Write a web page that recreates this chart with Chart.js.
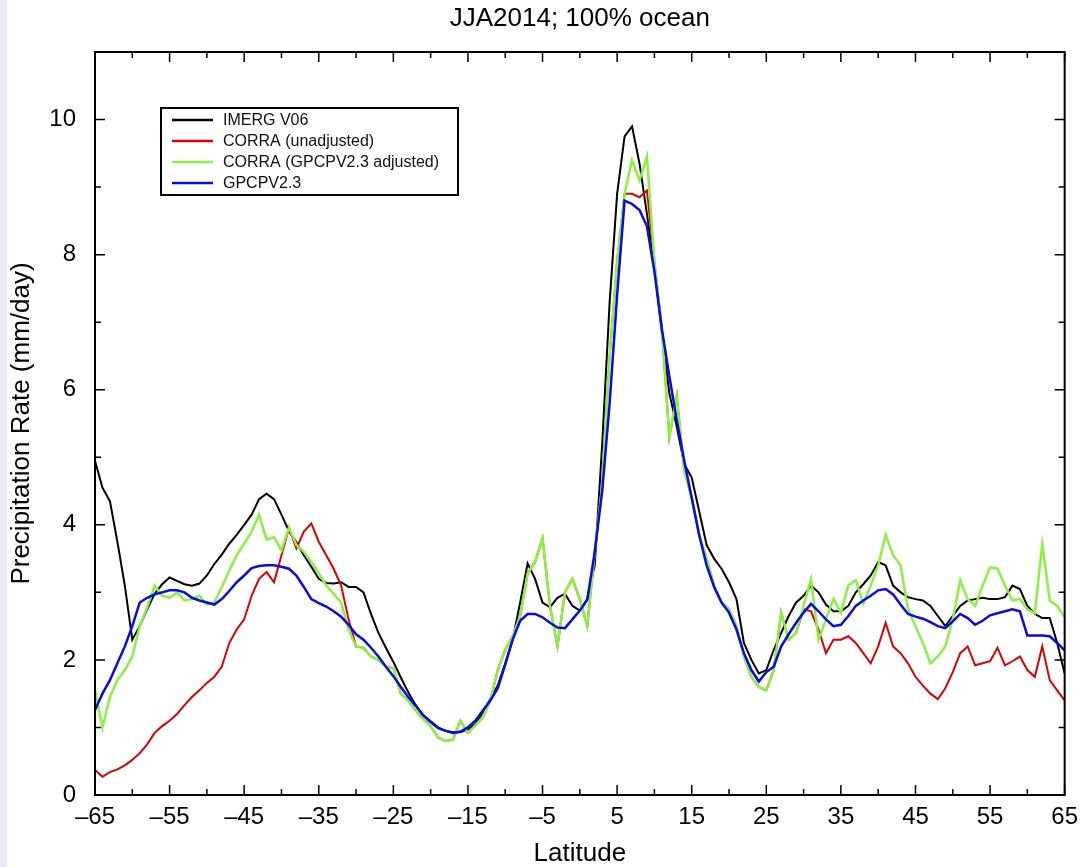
<!DOCTYPE html>
<html>
<head>
<meta charset="utf-8">
<script src="https://cdn.jsdelivr.net/npm/chart.js@4.4.0/dist/chart.umd.min.js"></script>
<style>
  html, body { margin: 0; padding: 0; background: #fff; }
  #wrap { width: 1086px; height: 867px; }
</style>
</head>
<body>
<div id="wrap"><canvas id="chart" width="1086" height="867"></canvas></div>
<script>
// zonal mean precipitation, JJA2014, ocean only (1 degree steps)
const lats = [
  -65, -64, -63, -62, -61, -60, -59, -58, -57, -56,
  -55, -54, -53, -52, -51, -50, -49, -48, -47, -46,
  -45, -44, -43, -42, -41, -40, -39, -38, -37, -36,
  -35, -34, -33, -32, -31, -30, -29, -28, -27, -26,
  -25, -24, -23, -22, -21, -20, -19, -18, -17, -16,
  -15, -14, -13, -12, -11, -10, -9, -8, -7, -6,
  -5, -4, -3, -2, -1, 0, 1, 2, 3, 4,
  5, 6, 7, 8, 9, 10, 11, 12, 13, 14,
  15, 16, 17, 18, 19, 20, 21, 22, 23, 24,
  25, 26, 27, 28, 29, 30, 31, 32, 33, 34,
  35, 36, 37, 38, 39, 40, 41, 42, 43, 44,
  45, 46, 47, 48, 49, 50, 51, 52, 53, 54,
  55, 56, 57, 58, 59, 60, 61, 62, 63, 64,
  65
];

const imerg = [
  4.95, 4.55, 4.35, 3.75, 3.1, 2.3, 2.5, 2.75, 2.98, 3.12,
  3.22, 3.17, 3.12, 3.1, 3.13, 3.25, 3.42, 3.56, 3.72, 3.85,
  4.0, 4.15, 4.38, 4.46, 4.38, 4.15, 3.91, 3.74, 3.55, 3.38,
  3.2, 3.14, 3.13, 3.15, 3.08, 3.08, 3.0, 2.68, 2.4, 2.18,
  1.97, 1.74, 1.52, 1.33, 1.18, 1.09, 1.0, 0.95, 0.93, 0.93,
  0.97, 1.05, 1.22, 1.42, 1.62, 1.95, 2.3, 2.85, 3.43, 3.2,
  2.85, 2.78, 2.92, 2.98, 2.8, 2.73, 2.9, 3.4, 5.2, 7.3,
  8.9, 9.75, 9.9, 9.35, 8.6, 7.8, 6.85, 5.95, 5.45, 4.9,
  4.7, 4.2, 3.7, 3.5, 3.35, 3.15, 2.9, 2.25, 2.0, 1.8,
  1.85, 2.15, 2.4, 2.65, 2.85, 2.95, 3.1, 3.0, 2.82, 2.72,
  2.72, 2.8, 3.0, 3.12, 3.25, 3.45, 3.4, 3.1, 3.0, 2.93,
  2.9, 2.88, 2.8, 2.65, 2.5, 2.65, 2.8, 2.88, 2.9, 2.92,
  2.9, 2.9, 2.93, 3.1, 3.05, 2.8, 2.68, 2.62, 2.62, 2.25,
  1.8
];

const corraRaw = [
  0.37, 0.27, 0.34, 0.38, 0.44, 0.52, 0.62, 0.75, 0.92, 1.02,
  1.1, 1.2, 1.33, 1.45, 1.55, 1.66, 1.75, 1.9, 2.25, 2.45,
  2.6, 2.95, 3.2, 3.3, 3.15, 3.55, 3.95, 3.65, 3.9, 4.02,
  3.75, 3.55, 3.35, 3.1, 2.6, 2.2, 2.18, 2.05, 2.0, 1.9,
  1.88, 1.5, 1.4, 1.25, 1.12, 1.02, 0.85, 0.8, 0.82, 1.1,
  0.92, 1.03, 1.15, 1.4, 1.85, 2.15, 2.35, 2.65, 3.28, 3.45,
  3.8, 2.8, 2.2, 3.0, 3.2, 2.9, 2.5, 3.6, 4.6, 6.5,
  7.9, 8.9, 8.9, 8.85, 8.95, 7.9, 6.9, 5.3, 5.9, 4.8,
  4.4, 3.85, 3.5, 3.1, 2.85, 2.75, 2.5, 2.05, 1.75, 1.6,
  1.55, 1.85, 2.7, 2.3, 2.4, 2.75, 2.72, 2.45, 2.1, 2.3,
  2.3, 2.35, 2.25, 2.1, 1.95, 2.2, 2.55, 2.2, 2.1, 1.95,
  1.75, 1.62, 1.5, 1.42, 1.58, 1.82, 2.1, 2.2, 1.92, 1.95,
  1.98, 2.18, 1.92, 1.98, 2.05, 1.85, 1.75, 2.2, 1.7, 1.55,
  1.4
];

const corraAdj = [
  1.55, 1.0, 1.45, 1.7, 1.85, 2.05, 2.5, 2.78, 3.1, 2.95,
  2.92, 3.0, 2.88, 2.9, 2.95, 2.82, 2.85, 3.08, 3.32, 3.55,
  3.72, 3.9, 4.15, 3.78, 3.82, 3.62, 3.96, 3.7, 3.6, 3.45,
  3.28, 3.1, 2.98, 2.85, 2.45, 2.2, 2.18, 2.05, 2.0, 1.9,
  1.88, 1.5, 1.4, 1.25, 1.12, 1.02, 0.85, 0.8, 0.82, 1.1,
  0.92, 1.03, 1.15, 1.4, 1.85, 2.15, 2.35, 2.65, 3.28, 3.45,
  3.8, 2.8, 2.2, 3.0, 3.2, 2.9, 2.5, 3.6, 4.6, 6.5,
  7.9, 8.9, 9.4, 9.1, 9.45, 7.9, 6.9, 5.3, 5.9, 4.8,
  4.4, 3.85, 3.5, 3.1, 2.85, 2.75, 2.5, 2.05, 1.75, 1.6,
  1.55, 1.85, 2.7, 2.3, 2.4, 2.8, 3.2, 2.3, 2.6, 2.9,
  2.7, 3.1, 3.18, 2.83, 3.1, 3.4, 3.85, 3.55, 3.4, 2.75,
  2.5, 2.25, 1.95, 2.05, 2.2, 2.6, 3.18, 2.9, 2.8, 3.1,
  3.37, 3.35, 3.1, 2.88, 2.9, 2.75, 2.69, 3.72, 2.88, 2.8,
  2.63
];

const gpcp = [
  1.26, 1.5, 1.7, 1.95, 2.2, 2.5, 2.85, 2.92, 2.97, 3.0,
  3.03, 3.03, 3.0, 2.92, 2.88, 2.85, 2.82, 2.9, 3.02, 3.15,
  3.25, 3.36, 3.39, 3.4, 3.4, 3.38, 3.35, 3.25, 3.08, 2.9,
  2.84, 2.79, 2.72, 2.64, 2.52, 2.38, 2.3, 2.18, 2.05, 1.9,
  1.76, 1.6, 1.45, 1.32, 1.18, 1.08, 0.99, 0.95, 0.92, 0.94,
  1.0, 1.1, 1.25, 1.4, 1.58, 1.93, 2.3, 2.58, 2.68, 2.68,
  2.63, 2.55, 2.48, 2.47, 2.6, 2.73, 2.89, 3.6, 4.5, 5.8,
  7.4, 8.8, 8.75, 8.66, 8.42, 7.75, 6.9, 6.2, 5.55, 4.95,
  4.4, 3.85, 3.4, 3.08, 2.85, 2.7, 2.45, 2.1, 1.85, 1.68,
  1.82, 1.9, 2.2, 2.38, 2.55, 2.7, 2.83, 2.72, 2.6, 2.5,
  2.52, 2.65, 2.8, 2.88, 2.95, 3.03, 3.05, 2.97, 2.82, 2.68,
  2.64, 2.61, 2.56, 2.5, 2.47, 2.57, 2.68, 2.62, 2.52, 2.58,
  2.66, 2.69, 2.72, 2.75, 2.72, 2.36, 2.36, 2.36, 2.35, 2.25,
  2.14
];

const seriesLabels = ['IMERG V06', 'CORRA (unadjusted)', 'CORRA (GPCPV2.3 adjusted)', 'GPCPV2.3'];
const seriesColors = ['#000000', '#dd0000', '#8cf040', '#0a0ae6'];

const FONT = "'Liberation Sans', Arial, Helvetica, sans-serif";
Chart.defaults.font.family = FONT;
Chart.defaults.color = '#000';

function pts(vals) {
    return lats.map((x, i) => ({ x, y: vals[i] }));
}

// labelled ticks get the long mark
function xMajor(v) { return (v + 65) % 10 === 0; }
function yMajor(v) { return v % 2 === 0; }

// white page, frame, inward ticks, title and the boxed legend
const decorPlugin = {
    id: 'decor',
    beforeDraw(chart) {
        const ctx = chart.ctx;
        ctx.save();
        ctx.fillStyle = '#fff';
        ctx.fillRect(0, 0, chart.width, chart.height);
        ctx.fillStyle = '#e7e7f5';
        ctx.fillRect(0, 0, 7, chart.height);
        ctx.restore();
    },
    afterDatasetsDraw(chart) {
        const { ctx, chartArea: a, scales: { x, y } } = chart;
        ctx.save();

        ctx.strokeStyle = '#000';
        ctx.lineWidth = 1.5;
        ctx.beginPath();
        x.ticks.forEach(t => {
            const px = x.getPixelForValue(t.value);
            const len = xMajor(t.value) ? 10 : 6;
            ctx.moveTo(px, a.bottom); ctx.lineTo(px, a.bottom - len);
            ctx.moveTo(px, a.top); ctx.lineTo(px, a.top + len);
        });
        y.ticks.forEach(t => {
            const py = y.getPixelForValue(t.value);
            const len = yMajor(t.value) ? 10 : 6;
            ctx.moveTo(a.left, py); ctx.lineTo(a.left + len, py);
            ctx.moveTo(a.right, py); ctx.lineTo(a.right - len, py);
        });
        ctx.stroke();

        ctx.lineWidth = 2;
        ctx.strokeRect(a.left, a.top, a.right - a.left, a.bottom - a.top);

        // title
        ctx.fillStyle = '#000';
        ctx.font = '26px ' + FONT;
        ctx.textAlign = 'center';
        ctx.textBaseline = 'middle';
        ctx.fillText('JJA2014; 100% ocean', (a.left + a.right) / 2, 19);

        // legend box
        const bx = a.left + 66, by = a.top + 56, bw = 297, bh = 87;
        ctx.fillStyle = '#fff';
        ctx.fillRect(bx, by, bw, bh);
        ctx.lineWidth = 2;
        ctx.strokeRect(bx, by, bw, bh);
        ctx.font = '16px ' + FONT;
        ctx.textAlign = 'left';
        chart.data.datasets.forEach((ds, i) => {
            const ry = by + 12 + i * 21;
            ctx.strokeStyle = ds.borderColor;
            ctx.lineWidth = 2.5;
            ctx.beginPath();
            ctx.moveTo(bx + 11, ry); ctx.lineTo(bx + 52, ry);
            ctx.stroke();
            ctx.fillStyle = '#111';
            ctx.fillText(ds.label, bx + 62, ry + 1);
        });

        ctx.restore();
    }
};

new Chart(document.getElementById('chart'), {
    type: 'line',
    data: {
        datasets: [
            { label: seriesLabels[0], data: pts(imerg), borderColor: seriesColors[0], borderWidth: 2, order: 3 },
            { label: seriesLabels[1], data: pts(corraRaw), borderColor: seriesColors[1], borderWidth: 2, order: 2 },
            { label: seriesLabels[2], data: pts(corraAdj), borderColor: seriesColors[2], borderWidth: 2.5, order: 1 },
            { label: seriesLabels[3], data: pts(gpcp), borderColor: seriesColors[3], borderWidth: 2.5, order: 0 }
        ]
    },
    options: {
        responsive: false,
        animation: false,
        layout: { padding: { top: 52, right: 18, left: 0, bottom: 0 } },
        elements: { point: { radius: 0 }, line: { tension: 0 } },
        plugins: { legend: { display: false }, tooltip: { enabled: false } },
        scales: {
            x: {
                type: 'linear', min: -65, max: 65,
                grid: { display: false, drawTicks: false },
                border: { display: false },
                ticks: {
                    stepSize: 5, autoSkip: false, maxRotation: 0, padding: 8,
                    font: { size: 24 },
                    callback: v => (xMajor(v) ? (v < 0 ? '\u2013' + Math.abs(v) : String(v)) : '')
                },
                title: { display: true, text: 'Latitude', font: { size: 26, lineHeight: 1 }, padding: { top: 0, bottom: 0 } },
                afterFit: s => { s.height = 72; }
            },
            y: {
                min: 0, max: 11,
                grid: { display: false, drawTicks: false },
                border: { display: false },
                ticks: {
                    stepSize: 1, autoSkip: false, padding: 19,
                    font: { size: 24 },
                    callback: v => (yMajor(v) && v <= 10 ? String(v) : '')
                },
                title: { display: true, text: 'Precipitation Rate (mm/day)', font: { size: 26, lineHeight: 1 }, padding: { top: 9, bottom: 0 } },
                afterFit: s => { s.width = 95; }
            }
        }
    },
    plugins: [decorPlugin]
});
</script>
</body>
</html>
